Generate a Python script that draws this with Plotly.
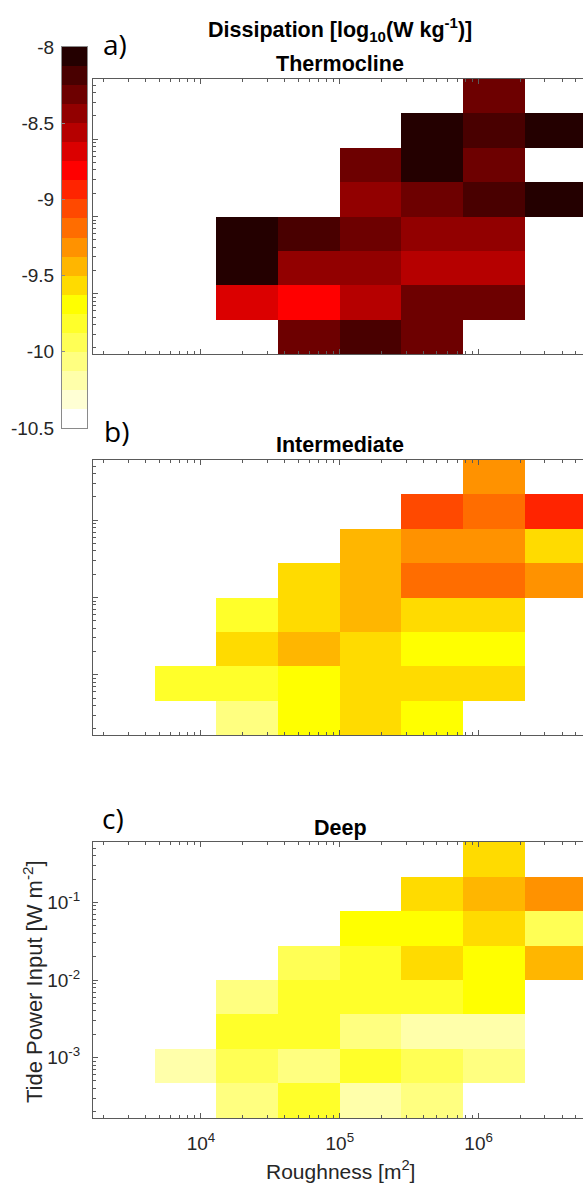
import numpy as np
import plotly.graph_objects as go

# ---------------- data ----------------
# bin edges (log10 of roughness [m^2] and of tide power input [W m^-2])
log_roughness_edges = [3.222, 3.667, 4.111, 4.556, 5.0, 5.444, 5.889, 6.333, 6.778]
log_tide_edges = [-3.778, -3.333, -2.889, -2.444, -2.0, -1.556, -1.111, -0.667, -0.222]

N = None
# rows: lowest tide-power bin first; columns: lowest roughness bin first
thermocline = [
    [N, N, N, -8.31, -8.19, -8.31, N, N],
    [N, N, -8.69, -8.81, -8.56, -8.31, -8.31, N],
    [N, N, -8.06, -8.44, -8.44, -8.56, -8.56, N],
    [N, N, -8.06, -8.19, -8.31, -8.44, -8.44, N],
    [N, N, N, N, -8.44, -8.31, -8.19, -8.06],
    [N, N, N, N, -8.31, -8.06, -8.31, N],
    [N, N, N, N, N, -8.06, -8.19, -8.06],
    [N, N, N, N, N, N, -8.31, N],
]
intermediate = [
    [N, N, -10.06, -9.69, -9.56, -9.69, N, N],
    [N, -9.81, -9.81, -9.69, -9.56, -9.56, -9.56, N],
    [N, N, -9.56, -9.44, -9.56, -9.69, -9.69, N],
    [N, N, -9.81, -9.56, -9.44, -9.56, -9.56, N],
    [N, N, N, -9.56, -9.44, -9.19, -9.19, -9.31],
    [N, N, N, N, -9.44, -9.31, -9.31, -9.56],
    [N, N, N, N, N, -9.06, -9.19, -8.94],
    [N, N, N, N, N, N, -9.31, N],
]
deep = [
    [N, N, -10.06, -9.81, -10.19, -10.06, N, N],
    [N, -10.19, -9.94, -10.06, -9.81, -9.94, -10.06, N],
    [N, N, -9.81, -9.81, -10.06, -10.19, -10.19, N],
    [N, N, -10.06, -9.81, -9.81, -9.81, -9.69, N],
    [N, N, N, -9.94, -9.81, -9.56, -9.69, -9.44],
    [N, N, N, N, -9.69, -9.69, -9.56, -9.94],
    [N, N, N, N, N, -9.56, -9.44, -9.31],
    [N, N, N, N, N, N, -9.56, N],
]
panel_titles = ["Thermocline", "Intermediate", "Deep"]
panel_letters = ["a)", "b)", "c)"]

cmin, cmax = -10.5, -8.0
cbar_ticks = [-8, -8.5, -9, -9.5, -10, -10.5]
cbar_ticktext = ["-8", "-8.5", "-9", "-9.5", "-10", "-10.5"]

# ---------------- style ----------------
W, H = 583, 1184
# MATLAB hot(20), flipped (low values white -> high values black)
hot20 = ['#240000', '#490000', '#6d0000', '#920000', '#b60000', '#db0000',
         '#ff0000', '#ff2400', '#ff4900', '#ff6d00', '#ff9200', '#ffb600',
         '#ffdb00', '#ffff00', '#ffff2a', '#ffff55', '#ffff80', '#ffffaa',
         '#ffffd4', '#ffffff']
cols = hot20[::-1]
nlev = len(cols)
colorscale = []
for i, c in enumerate(cols):
    colorscale.append([i / nlev, c])
    colorscale.append([(i + 1) / nlev, c])

FONT = "Liberation Sans, Arial, Helvetica, sans-serif"
AX = "#5a5a5a"
TXT = "#262626"
TICK_SIZE = 19

x_edges = [10 ** v for v in log_roughness_edges]
y_edges = [10 ** v for v in log_tide_edges]

# panel pixel extents (top, bottom)
panels_px = [(79, 354), (460, 735), (842, 1118)]
x_left = 93

def ydom(top, bot):
    return [(H - bot) / H, (H - top) / H]

x_minor = [k * 10 ** n for n in range(3, 7) for k in range(2, 10)]
y_minor = [k * 10.0 ** n for n in range(-4, 0) for k in range(2, 10)]

fig = go.Figure()
layout = dict(
    width=W, height=H,
    margin=dict(l=0, r=0, t=0, b=0),
    paper_bgcolor="white", plot_bgcolor="white",
    template="none",
    showlegend=False,
    font=dict(family=FONT, size=TICK_SIZE, color=TXT),
    coloraxis=dict(colorscale=colorscale, cmin=cmin, cmax=cmax, showscale=False),
)

datasets = [thermocline, intermediate, deep]
annotations = []
for i, (z, (top, bot)) in enumerate(zip(datasets, panels_px)):
    sfx = "" if i == 0 else str(i + 1)
    fig.add_trace(go.Heatmap(
        z=z, x=x_edges, y=y_edges, coloraxis="coloraxis",
        xaxis="x" + sfx, yaxis="y" + sfx, hoverongaps=False,
    ))
    last = (i == 2)
    layout["xaxis" + sfx] = dict(
        type="log", domain=[x_left / W, 1.0],
        range=[log_roughness_edges[0], 6.752],
        anchor="y" + sfx,
        showline=True, linecolor=AX, linewidth=1, mirror="ticks",
        ticks="inside", ticklen=5, tickwidth=1, tickcolor=AX,
        tickmode="array", tickvals=[1e4, 1e5, 1e6],
        ticktext=["10<sup>4</sup>", "10<sup>5</sup>", "10<sup>6</sup>"],
        showticklabels=last, tickfont=dict(size=TICK_SIZE, color=TXT, family=FONT),
        ticklabelstandoff=8,
        minor=dict(tickmode="array", tickvals=x_minor, ticks="inside",
                   ticklen=3, tickwidth=1, tickcolor=AX, showgrid=False),
        showgrid=False, zeroline=False,
    )
    layout["yaxis" + sfx] = dict(
        type="log", domain=ydom(top, bot),
        range=[log_tide_edges[0], log_tide_edges[-1]],
        anchor="x" + sfx,
        showline=True, linecolor=AX, linewidth=1, mirror=False,
        ticks="inside", ticklen=5, tickwidth=1, tickcolor=AX,
        tickmode="array", tickvals=[1e-3, 1e-2, 1e-1],
        ticktext=["10<sup>-3</sup>", "10<sup>-2</sup>", "10<sup>-1</sup>"],
        showticklabels=last, tickfont=dict(size=TICK_SIZE, color=TXT, family=FONT),
        ticklabelstandoff=8,
        minor=dict(tickmode="array", tickvals=y_minor, ticks="inside",
                   ticklen=3, tickwidth=1, tickcolor=AX, showgrid=False),
        showgrid=False, zeroline=False,
    )

# colour bar drawn as its own axes
cb_edges = np.linspace(cmin, cmax, nlev + 1)
cb_centers = (cb_edges[:-1] + cb_edges[1:]) / 2
fig.add_trace(go.Heatmap(
    z=[[v] for v in cb_centers], x=[0, 1], y=cb_edges,
    coloraxis="coloraxis", xaxis="x4", yaxis="y4", hoverinfo="skip",
))
layout["xaxis4"] = dict(domain=[62 / W, 87 / W], range=[0, 1], anchor="y4",
                        showline=True, linecolor="#8a8a8a", mirror=True,
                        showticklabels=False, ticks="", showgrid=False, zeroline=False)
layout["yaxis4"] = dict(domain=ydom(47, 428), range=[cmin, cmax], anchor="x4",
                        showline=True, linecolor="#8a8a8a", mirror=True,
                        tickmode="array", tickvals=cbar_ticks, ticktext=cbar_ticktext,
                        ticks="inside", ticklen=3, tickcolor="#8a8a8a",
                        tickfont=dict(size=TICK_SIZE, color=TXT, family=FONT),
                        ticklabelstandoff=3,
                        showgrid=False, zeroline=False)

def ann(text, xpx, ypx, size, angle=0, family=FONT, color="black"):
    annotations.append(dict(
        text=text, x=xpx / W, y=(H - ypx) / H, xref="paper", yref="paper",
        xanchor="center", yanchor="middle", showarrow=False, textangle=angle,
        font=dict(size=size, family=family, color=color),
    ))

ann("<b>Dissipation [log<sub>10</sub>(W kg<sup>-1</sup>)]</b>", 340, 30, 21.5)
ann("<b>%s</b>" % panel_titles[0], 340, 64, 21.5)
ann("<b>%s</b>" % panel_titles[1], 340, 445, 21.5)
ann("<b>%s</b>" % panel_titles[2], 340, 828, 21.5)
ann(panel_letters[0], 115, 44, 28, family="Open Sans, sans-serif")
ann(panel_letters[1], 116, 431, 28, family="Open Sans, sans-serif")
ann(panel_letters[2], 113, 818, 28, family="Open Sans, sans-serif")
ann("Tide Power Input [W m<sup>-2</sup>]", 33, 982, 22, angle=-90, color=TXT)
ann("Roughness [m<sup>2</sup>]", 340, 1170, 21, color=TXT)

layout["annotations"] = annotations
fig.update_layout(**layout)
fig.write_html("out.html")
